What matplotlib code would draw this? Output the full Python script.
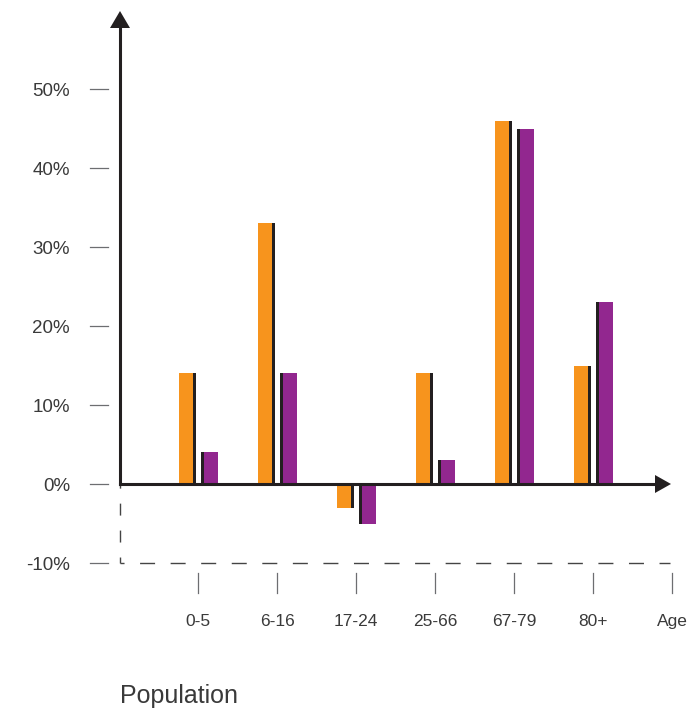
import matplotlib
matplotlib.use("Agg")
import matplotlib.pyplot as plt
import numpy as np

# Percentage change per age group, two series
age_groups = ["0-5", "6-16", "17-24", "25-66", "67-79", "80+"]
change_orange = [14, 33, -3, 14, 46, 15]
change_purple = [4, 14, -5, 3, 45, 23]
y_ticks = [-10, 0, 10, 20, 30, 40, 50]
y_tick_labels = [f"{v}%" for v in y_ticks]
x_end_label = "Age"
footer_label = "Population"

ORANGE = "#F7941D"
PURPLE = "#92278F"
DARK = "#231F20"
TICK = "#6D6E71"
TEXT = "#3A3A3A"
FONT = "Liberation Sans"

W, H = 693, 708
fig = plt.figure(figsize=(W / 100, H / 100), dpi=100)
ax = fig.add_axes([0, 0, 1, 1])
ax.axis("off")

# Layout: group spacing and vertical scale expressed in pixels
X0_PX, STEP_PX, Y0_PX, PCT_PX = 198, 79.0, 484, 7.9
ax.set_xlim(-X0_PX / STEP_PX, (W - X0_PX) / STEP_PX)
ax.set_ylim(-(H - Y0_PX) / PCT_PX, Y0_PX / PCT_PX)


def dx(px):
    return px / STEP_PX


def dy(px):
    return px / PCT_PX


def X(px):
    return (px - X0_PX) / STEP_PX


def Y(py):
    return (Y0_PX - py) / PCT_PX


x = np.arange(len(age_groups))

# Bars with a thin dark edge: right side of the orange bars, left side of the purple ones
ax.bar(x + dx(-19), change_orange, width=dx(14.3), align="edge", color=ORANGE,
       linewidth=0, zorder=3)
ax.bar(x + dx(-4.7), change_orange, width=dx(2.7), align="edge", color=DARK,
       linewidth=0, zorder=2)
ax.bar(x + dx(3.0), change_purple, width=dx(2.7), align="edge", color=DARK,
       linewidth=0, zorder=2)
ax.bar(x + dx(5.7), change_purple, width=dx(14.3), align="edge", color=PURPLE,
       linewidth=0, zorder=3)

# Axes with arrow heads
axis_x = X(120)
ax.plot([axis_x, axis_x], [0, Y(28)], color=DARK, lw=2.2,
        solid_capstyle="projecting", zorder=4)
ax.fill([axis_x - dx(10), axis_x + dx(10), axis_x], [Y(28), Y(28), Y(11)],
        color=DARK, lw=0, zorder=4)
ax.plot([axis_x, X(656)], [0, 0], color=DARK, lw=2.2,
        solid_capstyle="projecting", zorder=4)
ax.fill([X(655), X(655), X(671)], [Y(475), Y(493), 0],
        color=DARK, lw=0, zorder=4)

# Dashed extension below zero, both legs starting from the corner
ymin = min(y_ticks)
ax.plot([axis_x, axis_x], [ymin, 0], color="#444444", lw=1.0,
        linestyle=(4.3, (8.6, 10.8)), zorder=1)
ax.plot([axis_x, X(670)], [ymin, ymin], color="#444444", lw=1.0,
        linestyle=(7.9, (10.8, 11.2)), zorder=1)

# Y ticks and labels
for v, lab in zip(y_ticks, y_tick_labels):
    ax.plot([X(90), X(108)], [v, v], color=TICK, lw=0.9)
    ax.text(X(70), v - dy(7), lab, ha="right", va="baseline",
            fontsize=13.5, color=TEXT, family=FONT)

# X ticks and labels
x_positions = list(x) + [len(age_groups)]
x_labels = age_groups + [x_end_label]
for xp, lab in zip(x_positions, x_labels):
    ax.plot([xp, xp], [Y(573), Y(593)], color=TICK, lw=0.9)
    ax.text(xp, Y(626), lab, ha="center", va="baseline",
            fontsize=12.5, color=TEXT, family=FONT)

ax.text(X(120), Y(703), footer_label, ha="left", va="baseline",
        fontsize=18, color=TEXT, family=FONT)

fig.savefig("out.png", dpi=100)
